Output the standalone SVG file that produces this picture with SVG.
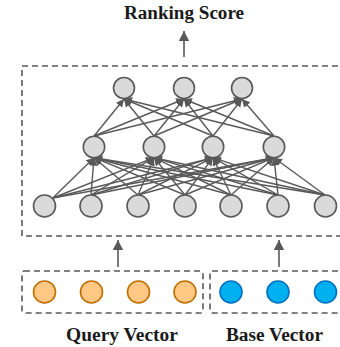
<svg xmlns="http://www.w3.org/2000/svg" width="340" height="347" viewBox="0 0 340 347">
<style>
.n{fill:#dadada;stroke:#595959;stroke-width:1.6}
.q{fill:#ffc985;stroke:#bf7000;stroke-width:1.6}
.b{fill:#00b0f0;stroke:#0070c0;stroke-width:1.6}
.box{fill:none;stroke:#595959;stroke-width:1.6;stroke-dasharray:6 4}
.e{stroke:#595959;stroke-width:1.4;fill:none;marker-end:url(#ah)}
.big{stroke:#595959;stroke-width:1.6;fill:none;marker-end:url(#bh)}
.t{font-family:"Liberation Serif",serif;font-weight:bold;font-size:18px;fill:#1a1a1a;text-anchor:middle}
</style>
<defs>
<marker id="ah" markerUnits="userSpaceOnUse" markerWidth="9" markerHeight="9" refX="8" refY="4" orient="auto" viewBox="0 0 9 8">
<path d="M0,0 L8,4 L0,8 Z" fill="#595959"/>
</marker>
<marker id="bh" markerUnits="userSpaceOnUse" markerWidth="11" markerHeight="11" refX="10" refY="5.2" orient="auto" viewBox="0 0 11 10.4">
<path d="M0,0 L10,5.2 L0,10.4 Z" fill="#595959"/>
</marker>
</defs>
<g id="labels">
<text class="t" x="184" y="19" textLength="120" lengthAdjust="spacingAndGlyphs">Ranking Score</text>
<text class="t" x="122" y="341" textLength="112" lengthAdjust="spacingAndGlyphs">Query Vector</text>
<text class="t" x="274.5" y="341" textLength="97" lengthAdjust="spacingAndGlyphs">Base Vector</text>
</g>
<g id="boxes">
<rect id="network-box" class="box" x="22" y="66" width="330" height="170"/>
<rect id="query-box" class="box" x="22" y="271" width="181" height="42" rx="2"/>
<rect id="base-box" class="box" x="210" y="271" width="140" height="42" rx="2"/>
</g>
<g id="connectors">
<line class="big" x1="184" y1="57" x2="184" y2="31"/>
<line class="big" x1="118" y1="267" x2="118" y2="240"/>
<line class="big" x1="279" y1="267" x2="279" y2="240"/>
<line class="e" x1="94" y1="136" x2="124" y2="99"/>
<line class="e" x1="94" y1="136" x2="184" y2="99"/>
<line class="e" x1="94" y1="136" x2="242" y2="99"/>
<line class="e" x1="154" y1="136" x2="124" y2="99"/>
<line class="e" x1="154" y1="136" x2="184" y2="99"/>
<line class="e" x1="154" y1="136" x2="242" y2="99"/>
<line class="e" x1="213" y1="136" x2="124" y2="99"/>
<line class="e" x1="213" y1="136" x2="184" y2="99"/>
<line class="e" x1="213" y1="136" x2="242" y2="99"/>
<line class="e" x1="274" y1="136" x2="124" y2="99"/>
<line class="e" x1="274" y1="136" x2="184" y2="99"/>
<line class="e" x1="274" y1="136" x2="242" y2="99"/>
<line class="e" x1="52.8" y1="198" x2="94" y2="157.7"/>
<line class="e" x1="52.8" y1="198" x2="154" y2="157.7"/>
<line class="e" x1="52.8" y1="198" x2="213" y2="157.7"/>
<line class="e" x1="52.8" y1="198" x2="274" y2="157.7"/>
<line class="e" x1="91" y1="195" x2="94" y2="157.7"/>
<line class="e" x1="91" y1="195" x2="154" y2="157.7"/>
<line class="e" x1="91" y1="195" x2="213" y2="157.7"/>
<line class="e" x1="91" y1="195" x2="274" y2="157.7"/>
<line class="e" x1="138" y1="195" x2="94" y2="157.7"/>
<line class="e" x1="138" y1="195" x2="154" y2="157.7"/>
<line class="e" x1="138" y1="195" x2="213" y2="157.7"/>
<line class="e" x1="138" y1="195" x2="274" y2="157.7"/>
<line class="e" x1="185" y1="195" x2="94" y2="157.7"/>
<line class="e" x1="185" y1="195" x2="154" y2="157.7"/>
<line class="e" x1="185" y1="195" x2="213" y2="157.7"/>
<line class="e" x1="185" y1="195" x2="274" y2="157.7"/>
<line class="e" x1="231" y1="195" x2="94" y2="157.7"/>
<line class="e" x1="231" y1="195" x2="154" y2="157.7"/>
<line class="e" x1="231" y1="195" x2="213" y2="157.7"/>
<line class="e" x1="231" y1="195" x2="274" y2="157.7"/>
<line class="e" x1="278" y1="195" x2="94" y2="157.7"/>
<line class="e" x1="278" y1="195" x2="154" y2="157.7"/>
<line class="e" x1="278" y1="195" x2="213" y2="157.7"/>
<line class="e" x1="278" y1="195" x2="274" y2="157.7"/>
<line class="e" x1="325" y1="195" x2="94" y2="157.7"/>
<line class="e" x1="325" y1="195" x2="154" y2="157.7"/>
<line class="e" x1="325" y1="195" x2="213" y2="157.7"/>
<line class="e" x1="325" y1="195" x2="274" y2="157.7"/>
</g>
<g id="top1"><circle class="n" cx="124" cy="88" r="10.5"/></g>
<g id="top2"><circle class="n" cx="184" cy="88" r="10.5"/></g>
<g id="top3"><circle class="n" cx="242" cy="88" r="10.5"/></g>
<g id="mid1"><circle class="n" cx="94" cy="147" r="10.7"/></g>
<g id="mid2"><circle class="n" cx="154" cy="147" r="10.7"/></g>
<g id="mid3"><circle class="n" cx="213" cy="147" r="10.7"/></g>
<g id="mid4"><circle class="n" cx="274" cy="147" r="10.7"/></g>
<g id="in1"><circle class="n" cx="44.5" cy="206" r="11"/></g>
<g id="in2"><circle class="n" cx="91" cy="206" r="11"/></g>
<g id="in3"><circle class="n" cx="138" cy="206" r="11"/></g>
<g id="in4"><circle class="n" cx="185" cy="206" r="11"/></g>
<g id="in5"><circle class="n" cx="231" cy="206" r="11"/></g>
<g id="in6"><circle class="n" cx="278" cy="206" r="11"/></g>
<g id="in7"><circle class="n" cx="325.5" cy="206" r="11"/></g>
<g id="q1"><circle class="q" cx="44.5" cy="292" r="11"/></g>
<g id="q2"><circle class="q" cx="91.5" cy="292" r="11"/></g>
<g id="q3"><circle class="q" cx="138.5" cy="292" r="11"/></g>
<g id="q4"><circle class="q" cx="185" cy="292" r="11"/></g>
<g id="b1"><circle class="b" cx="231" cy="292" r="11"/></g>
<g id="b2"><circle class="b" cx="278" cy="292" r="11"/></g>
<g id="b3"><circle class="b" cx="325.5" cy="292" r="11"/></g>
</svg>
